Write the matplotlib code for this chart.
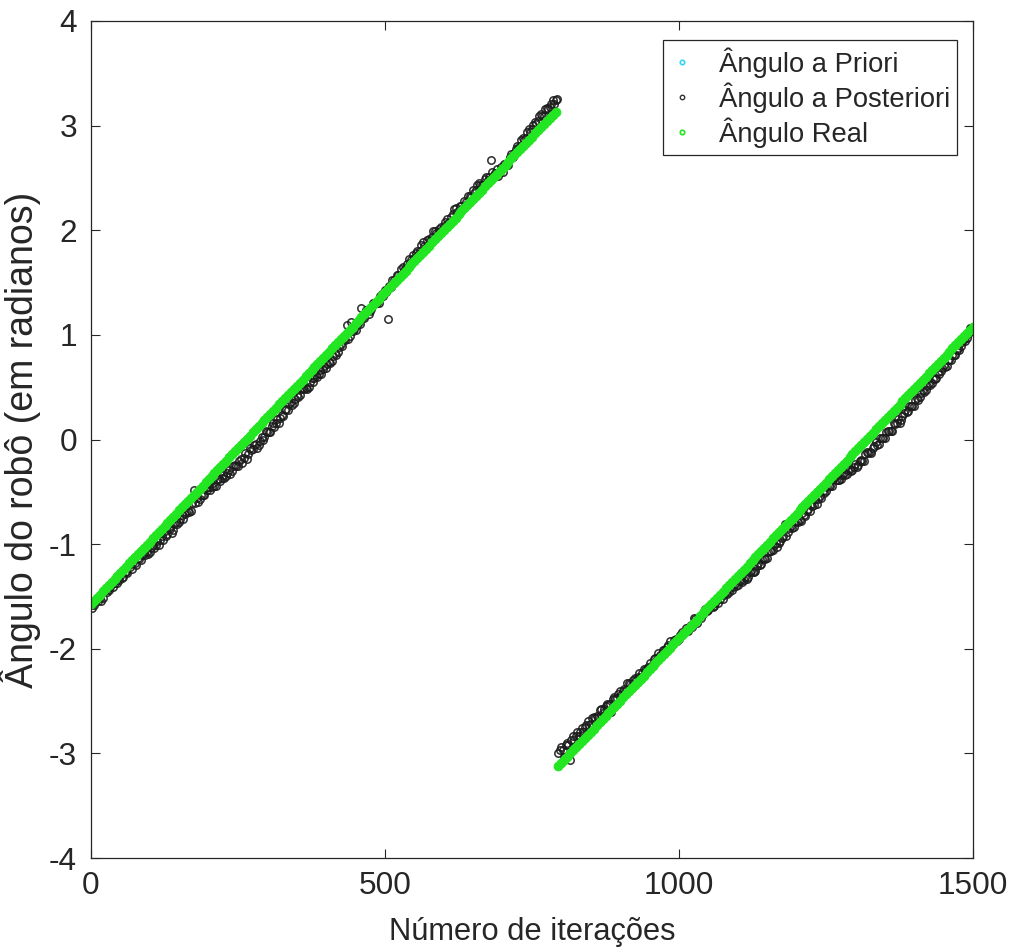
import numpy as np
import matplotlib
matplotlib.use("Agg")
import matplotlib.pyplot as plt
from matplotlib import font_manager as fm
from matplotlib.lines import Line2D

# ---------------- data ----------------
iteracoes = np.arange(0, 1501, 5)

angulo_real = [
    -1.571, -1.541, -1.511, -1.482, -1.452, -1.422, -1.392, -1.363, -1.333, -1.303,
    -1.273, -1.243, -1.214, -1.184, -1.154, -1.124, -1.095, -1.065, -1.035, -1.005,
    -0.976, -0.946, -0.916, -0.886, -0.856, -0.827, -0.797, -0.767, -0.737, -0.708,
    -0.678, -0.648, -0.618, -0.588, -0.559, -0.529, -0.499, -0.469, -0.440, -0.410,
    -0.380, -0.350, -0.320, -0.291, -0.261, -0.231, -0.201, -0.172, -0.142, -0.112,
    -0.082, -0.052, -0.023, 0.007, 0.037, 0.067, 0.096, 0.126, 0.156, 0.186,
    0.216, 0.245, 0.275, 0.305, 0.335, 0.364, 0.394, 0.424, 0.454, 0.483,
    0.513, 0.543, 0.573, 0.603, 0.632, 0.662, 0.692, 0.722, 0.751, 0.781,
    0.811, 0.841, 0.871, 0.900, 0.930, 0.960, 0.990, 1.019, 1.049, 1.079,
    1.109, 1.139, 1.168, 1.198, 1.228, 1.258, 1.287, 1.317, 1.347, 1.377,
    1.407, 1.436, 1.466, 1.496, 1.526, 1.555, 1.585, 1.615, 1.645, 1.674,
    1.704, 1.734, 1.764, 1.794, 1.823, 1.853, 1.883, 1.913, 1.942, 1.972,
    2.002, 2.032, 2.062, 2.091, 2.121, 2.151, 2.181, 2.210, 2.240, 2.270,
    2.300, 2.330, 2.359, 2.389, 2.419, 2.449, 2.478, 2.508, 2.538, 2.568,
    2.598, 2.627, 2.657, 2.687, 2.717, 2.746, 2.776, 2.806, 2.836, 2.865,
    2.895, 2.925, 2.955, 2.985, 3.014, 3.044, 3.074, 3.104, 3.133,
    -3.120, -3.090, -3.060, -3.031, -3.001, -2.971, -2.941, -2.912, -2.882, -2.852,
    -2.822, -2.793, -2.763, -2.733, -2.703, -2.673, -2.644, -2.614, -2.584, -2.554,
    -2.525, -2.495, -2.465, -2.435, -2.405, -2.376, -2.346, -2.316, -2.286, -2.257,
    -2.227, -2.197, -2.167, -2.137, -2.108, -2.078, -2.048, -2.018, -1.989, -1.959,
    -1.929, -1.899, -1.869, -1.840, -1.810, -1.780, -1.750, -1.721, -1.691, -1.661,
    -1.631, -1.602, -1.572, -1.542, -1.512, -1.482, -1.453, -1.423, -1.393, -1.363,
    -1.334, -1.304, -1.274, -1.244, -1.214, -1.185, -1.155, -1.125, -1.095, -1.066,
    -1.036, -1.006, -0.976, -0.946, -0.917, -0.887, -0.857, -0.827, -0.798, -0.768,
    -0.738, -0.708, -0.678, -0.649, -0.619, -0.589, -0.559, -0.530, -0.500, -0.470,
    -0.440, -0.411, -0.381, -0.351, -0.321, -0.291, -0.262, -0.232, -0.202, -0.172,
    -0.143, -0.113, -0.083, -0.053, -0.023, 0.006, 0.036, 0.066, 0.096, 0.126,
    0.155, 0.185, 0.215, 0.245, 0.274, 0.304, 0.334, 0.364, 0.393, 0.423,
    0.453, 0.483, 0.513, 0.542, 0.572, 0.602, 0.632, 0.661, 0.691, 0.721,
    0.751, 0.781, 0.810, 0.840, 0.870, 0.900, 0.929, 0.959, 0.989, 1.019,
    1.049, 1.078,
]

# estimation error of the a-posteriori angle relative to the real angle
erro_posteriori = [
    -0.01, -0.04, 0.00, -0.03, -0.06, -0.02, -0.05, -0.01, -0.04, -0.07,
    -0.03, -0.07, -0.05, -0.02, -0.08, -0.06, -0.04, -0.09, -0.05, -0.07,
    -0.10, -0.06, -0.09, -0.12, -0.07, -0.05, -0.11, -0.09, -0.13, -0.08,
    -0.11, -0.07, -0.09, -0.10, -0.12, 0.05, -0.06, -0.10, -0.09, -0.05,
    -0.07, -0.10, -0.12, -0.09, -0.14, -0.11, -0.15, -0.12, -0.16, -0.13,
    -0.17, -0.13, -0.15, -0.19, -0.12, -0.16, -0.14, -0.18, -0.13, -0.16,
    -0.14, -0.17, -0.12, -0.15, -0.18, -0.13, -0.11, -0.14, -0.10, -0.13,
    -0.09, -0.12, -0.08, -0.11, -0.13, -0.07, -0.10, -0.12, -0.09, -0.11,
    -0.13, -0.10, -0.12, -0.07, -0.09, -0.05, -0.03, 0.08, -0.06, -0.04,
    -0.06, -0.02, 0.09, -0.04, 0.00, -0.03, 0.02, -0.01, -0.04, 0.01,
    0.02, -0.28, -0.01, 0.03, 0.05, 0.01, 0.06, 0.02, 0.08, 0.04,
    0.03, 0.07, 0.04, 0.09, 0.02, 0.06, 0.05, 0.08, 0.03, 0.06,
    0.04, 0.08, 0.02, 0.06, 0.09, 0.03, 0.05, 0.07, 0.01, 0.06,
    0.08, 0.05, 0.09, 0.04, 0.07, 0.03, 0.19, 0.02, 0.05, -0.01,
    -0.04, 0.01, -0.03, 0.04, 0.02, 0.06, 0.03, 0.08, 0.05, 0.10,
    0.07, 0.11, 0.09, 0.13, 0.08, 0.12, 0.10, 0.14, 0.11,
    0.12, 0.15, 0.03, 0.13, -0.06, 0.14, 0.11, 0.08, 0.12, 0.10,
    0.13, 0.07, 0.11, 0.09, 0.12, 0.06, 0.10, 0.08, -0.02, 0.09,
    0.05, 0.09, 0.06, 0.04, 0.08, 0.03, 0.07, 0.05, 0.02, 0.06,
    0.03, 0.06, 0.02, 0.05, 0.07, 0.01, 0.04, 0.03, 0.06, 0.00,
    0.02, -0.01, 0.03, 0.00, -0.02, 0.01, 0.04, -0.03, 0.00, -0.01,
    0.01, -0.03, -0.02, -0.05, -0.01, -0.04, -0.07, -0.03, -0.06, -0.08,
    -0.05, -0.09, -0.07, -0.10, -0.12, -0.08, -0.11, -0.13, -0.09, -0.12,
    -0.10, -0.13, -0.09, -0.11, -0.07, -0.10, -0.08, 0.02, -0.09, -0.06,
    -0.10, -0.07, -0.09, -0.05, -0.11, -0.08, -0.06, -0.10, -0.12, -0.07,
    -0.05, -0.08, -0.06, -0.09, -0.04, -0.10, -0.12, -0.09, -0.13, -0.11,
    -0.15, -0.12, -0.16, -0.14, -0.18, -0.13, -0.16, -0.15, -0.12, -0.17,
    -0.14, -0.17, -0.13, -0.16, -0.12, -0.15, -0.18, -0.14, -0.11, -0.15,
    -0.13, -0.16, -0.12, -0.14, -0.10, -0.13, -0.09, -0.12, -0.11, -0.08,
    -0.10, -0.07, -0.11, -0.08, -0.06, -0.09, -0.05, -0.07, -0.03, -0.05,
    0.02, -0.02,
]

# a-posteriori estimates at the intermediate iterations (2, 7, 12, ...)
iteracoes_b = np.arange(2, 1500, 5)
angulo_posteriori_b = [
    -1.61, -1.55, -1.54, -1.54, -1.45, -1.46, -1.41, -1.41, -1.34, -1.34,
    -1.32, -1.27, -1.28, -1.22, -1.17, -1.20, -1.14, -1.10, -1.10, -1.09,
    -1.04, -1.04, -0.97, -0.96, -0.96, -0.92, -0.85, -0.89, -0.81, -0.81,
    -0.76, -0.76, -0.69, -0.69, -0.61, -0.61, -0.60, -0.53, -0.53, -0.48,
    -0.48, -0.42, -0.44, -0.38, -0.37, -0.37, -0.32, -0.33, -0.25, -0.25,
    -0.21, -0.22, -0.13, -0.14, -0.10, -0.05, -0.08, -0.01, 0.00, 0.08,
    0.07, 0.13, 0.12, 0.20, 0.21, 0.22, 0.29, 0.34, 0.33, 0.39,
    0.41, 0.48, 0.48, 0.48, 0.55, 0.55, 0.62, 0.63, 0.63, 0.70,
    0.72, 0.73, 0.80, 0.81, 0.88, 0.89, 0.95, 0.96, 1.12, 1.06,
    1.09, 1.10, 1.17, 1.24, 1.20, 1.25, 1.30, 1.30, 1.37, 1.37,
    1.41, 1.47, 1.52, 1.51, 1.57, 1.63, 1.62, 1.68, 1.69, 1.76,
    1.78, 1.77, 1.86, 1.85, 1.91, 1.90, 1.99, 1.97, 2.01, 2.00,
    2.08, 2.07, 2.13, 2.20, 2.17, 2.23, 2.21, 2.27, 2.33, 2.32,
    2.36, 2.43, 2.43, 2.43, 2.51, 2.51, 2.56, 2.55, 2.52, 2.60,
    2.63, 2.62, 2.70, 2.70, 2.78, 2.79, 2.86, 2.86, 2.94, 2.94,
    3.01, 3.02, 3.09, 3.09, 3.16, 3.16, 3.21, 3.21, 3.25,
    -2.97, -2.97, -2.92, -2.92, -2.87, -2.87, -2.80, -2.80, -2.80, -2.73,
    -2.73, -2.66, -2.66, -2.66, -2.58, -2.58, -2.53, -2.53, -2.48, -2.48,
    -2.43, -2.44, -2.38, -2.33, -2.34, -2.30, -2.30, -2.23, -2.23, -2.20,
    -2.17, -2.17, -2.10, -2.10, -2.06, -2.01, -2.02, -1.96, -1.97, -1.92,
    -1.93, -1.87, -1.86, -1.80, -1.79, -1.79, -1.72, -1.71, -1.71, -1.64,
    -1.64, -1.59, -1.60, -1.56, -1.56, -1.49, -1.49, -1.48, -1.42, -1.41,
    -1.40, -1.35, -1.36, -1.31, -1.31, -1.26, -1.27, -1.21, -1.20, -1.14,
    -1.14, -1.08, -1.07, -1.01, -1.03, -0.97, -0.92, -0.92, -0.85, -0.85,
    -0.79, -0.79, -0.78, -0.72, -0.68, -0.68, -0.64, -0.57, -0.57, -0.56,
    -0.51, -0.45, -0.44, -0.38, -0.39, -0.39, -0.34, -0.34, -0.29, -0.30,
    -0.26, -0.26, -0.21, -0.21, -0.14, -0.13, -0.13, -0.06, -0.05, 0.01,
    0.01, 0.07, 0.08, 0.08, 0.15, 0.20, 0.19, 0.25, 0.26, 0.32,
    0.32, 0.38, 0.38, 0.44, 0.45, 0.51, 0.52, 0.58, 0.59, 0.63,
    0.68, 0.69, 0.76, 0.76, 0.81, 0.86, 0.86, 0.93, 0.94, 1.01, 1.07,
]

assert len(angulo_real) == len(iteracoes) == len(erro_posteriori)
assert len(iteracoes_b) == len(angulo_posteriori_b)
angulo_real = np.array(angulo_real)
angulo_posteriori = angulo_real + np.array(erro_posteriori)

xticks = [0, 500, 1000, 1500]
yticks = [-4, -3, -2, -1, 0, 1, 2, 3, 4]
legend_labels = ["Ângulo a Priori", "Ângulo a Posteriori", "Ângulo Real"]

# ---------------- style ----------------
names = {f.name for f in fm.fontManager.ttflist}
if "Liberation Sans Narrow" in names:
    hfam = ["Liberation Sans Narrow", "DejaVu Sans"]
    hscale = 1.0
else:
    hfam = ["Liberation Sans", "DejaVu Sans"]
    hscale = 0.84
vfam = ["Liberation Sans", "DejaVu Sans"]

plt.rcParams["axes.unicode_minus"] = False
axcol = "#262626"

fig = plt.figure(figsize=(10.14, 9.52), dpi=100)
ax = fig.add_axes([91 / 1014, 1 - 858 / 952, 882 / 1014, 837 / 952])

green = "#22e622"
post_kw = dict(ls="none", marker="o", ms=5.3, mfc="none", mec="#1c1c1c",
               mew=1.15, alpha=0.9)
ax.plot([], [], ls="none", marker="o", ms=4, mfc="none", mec="#33d6f0")
ax.plot(iteracoes, angulo_posteriori, **post_kw)
ax.plot(iteracoes_b, angulo_posteriori_b, **post_kw)
ax.plot(iteracoes, angulo_real, ls="none", marker="o", ms=6.2,
        mfc=green, mec=green, mew=0.8)

ax.set_xlim(0, 1500)
ax.set_ylim(-4, 4)
ax.set_xticks(xticks)
ax.set_yticks(yticks)
ax.set_xticklabels([str(v) for v in xticks])
ax.set_yticklabels([str(v) for v in yticks])

tfs = 27 * hscale
for lab in ax.get_xticklabels() + ax.get_yticklabels():
    lab.set_fontfamily(hfam)
    lab.set_fontsize(tfs)
    lab.set_color(axcol)

ax.tick_params(direction="in", length=6.5, width=0.8, color=axcol,
               top=True, right=True)
ax.tick_params(axis="y", pad=10)
ax.tick_params(axis="x", pad=9)
for s in ax.spines.values():
    s.set_color(axcol)
    s.set_linewidth(0.9)

ax.set_xlabel("Número de iterações", family=hfam, fontsize=26.5 * hscale,
              color=axcol, labelpad=12)
ax.set_ylabel("Ângulo do robô (em radianos)", family=vfam, fontsize=27,
              color=axcol, labelpad=6)

handles = [
    Line2D([], [], ls="none", marker="o", ms=3.2, mfc="none", mec="#33d6f0", mew=1.2),
    Line2D([], [], ls="none", marker="o", ms=3.2, mfc="none", mec="#333333", mew=1.0),
    Line2D([], [], ls="none", marker="o", ms=3.2, mfc="none", mec=green, mew=1.2),
]
leg = ax.legend(handles, legend_labels, loc="upper right",
                bbox_to_anchor=(0.982, 0.977), borderaxespad=0,
                prop={"family": hfam, "size": 23.5 * hscale},
                fancybox=False, framealpha=1, edgecolor=axcol,
                handlelength=0.9, handletextpad=0.9, labelspacing=0.17,
                borderpad=0.25)
leg.get_frame().set_linewidth(0.9)
for t in leg.get_texts():
    t.set_color(axcol)

fig.savefig("out.png", dpi=100, facecolor="white")
